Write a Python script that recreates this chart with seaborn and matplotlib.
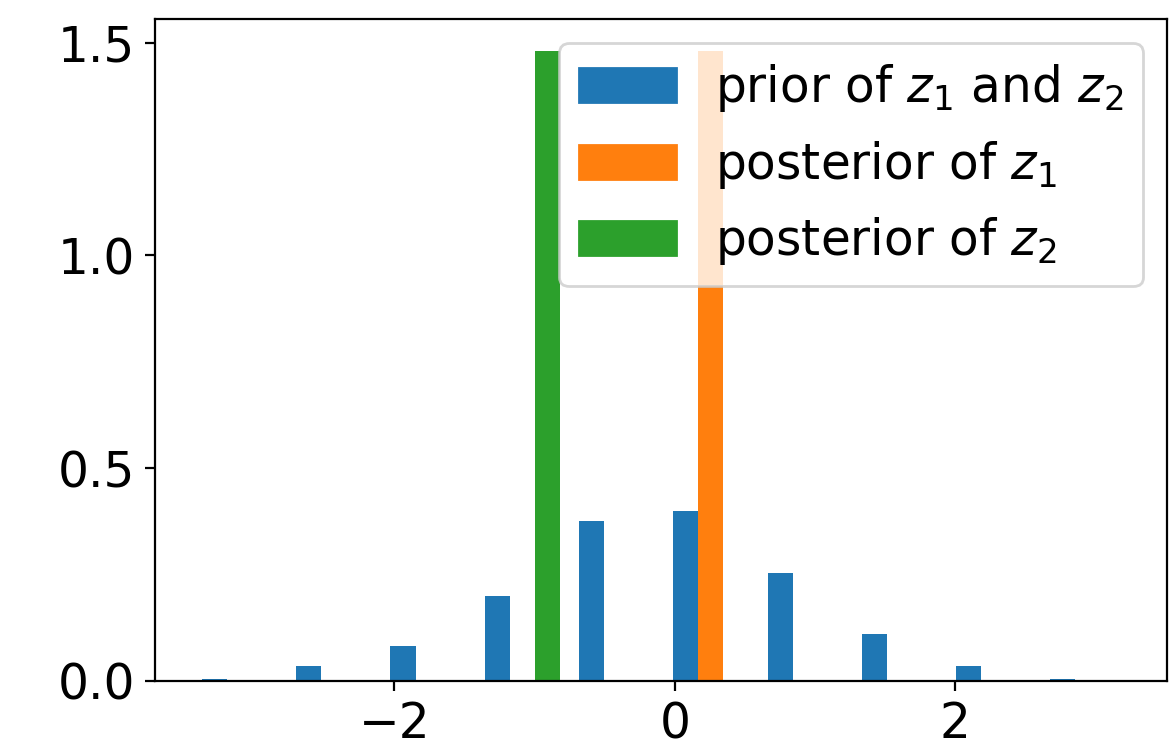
import matplotlib
matplotlib.use('Agg')
import matplotlib.pyplot as plt
import matplotlib.patches as mpatches
import pandas as pd
import seaborn as sns

plt.rcParams['font.size'] = 17.5

# bin centres of the histogram and the density
bin_centers = [-3.103, -2.431, -1.759, -1.087, -0.415, 0.257, 0.930, 1.602, 2.274, 2.946]
prior_density = [0.004, 0.035, 0.082, 0.199, 0.375, 0.399, 0.254, 0.110, 0.035, 0.004]

# posteriors fall in a single bin each
post_z1_center = [0.257]
post_z1_density = [1.48]
post_z2_center = [-1.087]
post_z2_density = [1.48]

labels = ['prior of $z_1$ and $z_2$', 'posterior of $z_1$', 'posterior of $z_2$']
colors = ['#1f77b4', '#ff7f0e', '#2ca02c']

df = pd.concat([
    pd.DataFrame({'x': bin_centers, 'density': prior_density, 'series': labels[0]}),
    pd.DataFrame({'x': post_z1_center, 'density': post_z1_density, 'series': labels[1]}),
    pd.DataFrame({'x': post_z2_center, 'density': post_z2_density, 'series': labels[2]}),
], ignore_index=True)

fig = plt.figure(figsize=(1169 / 200, 741 / 200), dpi=200)
ax = fig.add_axes([0.1322, 0.0814, 0.8661, 0.8936])

sns.barplot(
    data=df, x='x', y='density', hue='series',
    hue_order=labels, palette=colors,
    native_scale=True, dodge=True, saturation=1,
    errorbar=None, legend=False, ax=ax
)

ax.set_xlim(-3.71, 3.51)
ax.set_ylim(0, 1.557)
ax.set_xticks([-2, 0, 2])
ax.set_yticks([0.0, 0.5, 1.0, 1.5])
ax.set_xlabel('')
ax.set_ylabel('')

handles = [mpatches.Patch(color=c, label=l) for c, l in zip(colors, labels)]
ax.legend(handles=handles, loc='upper right')

fig.savefig('out.png', dpi=200)
